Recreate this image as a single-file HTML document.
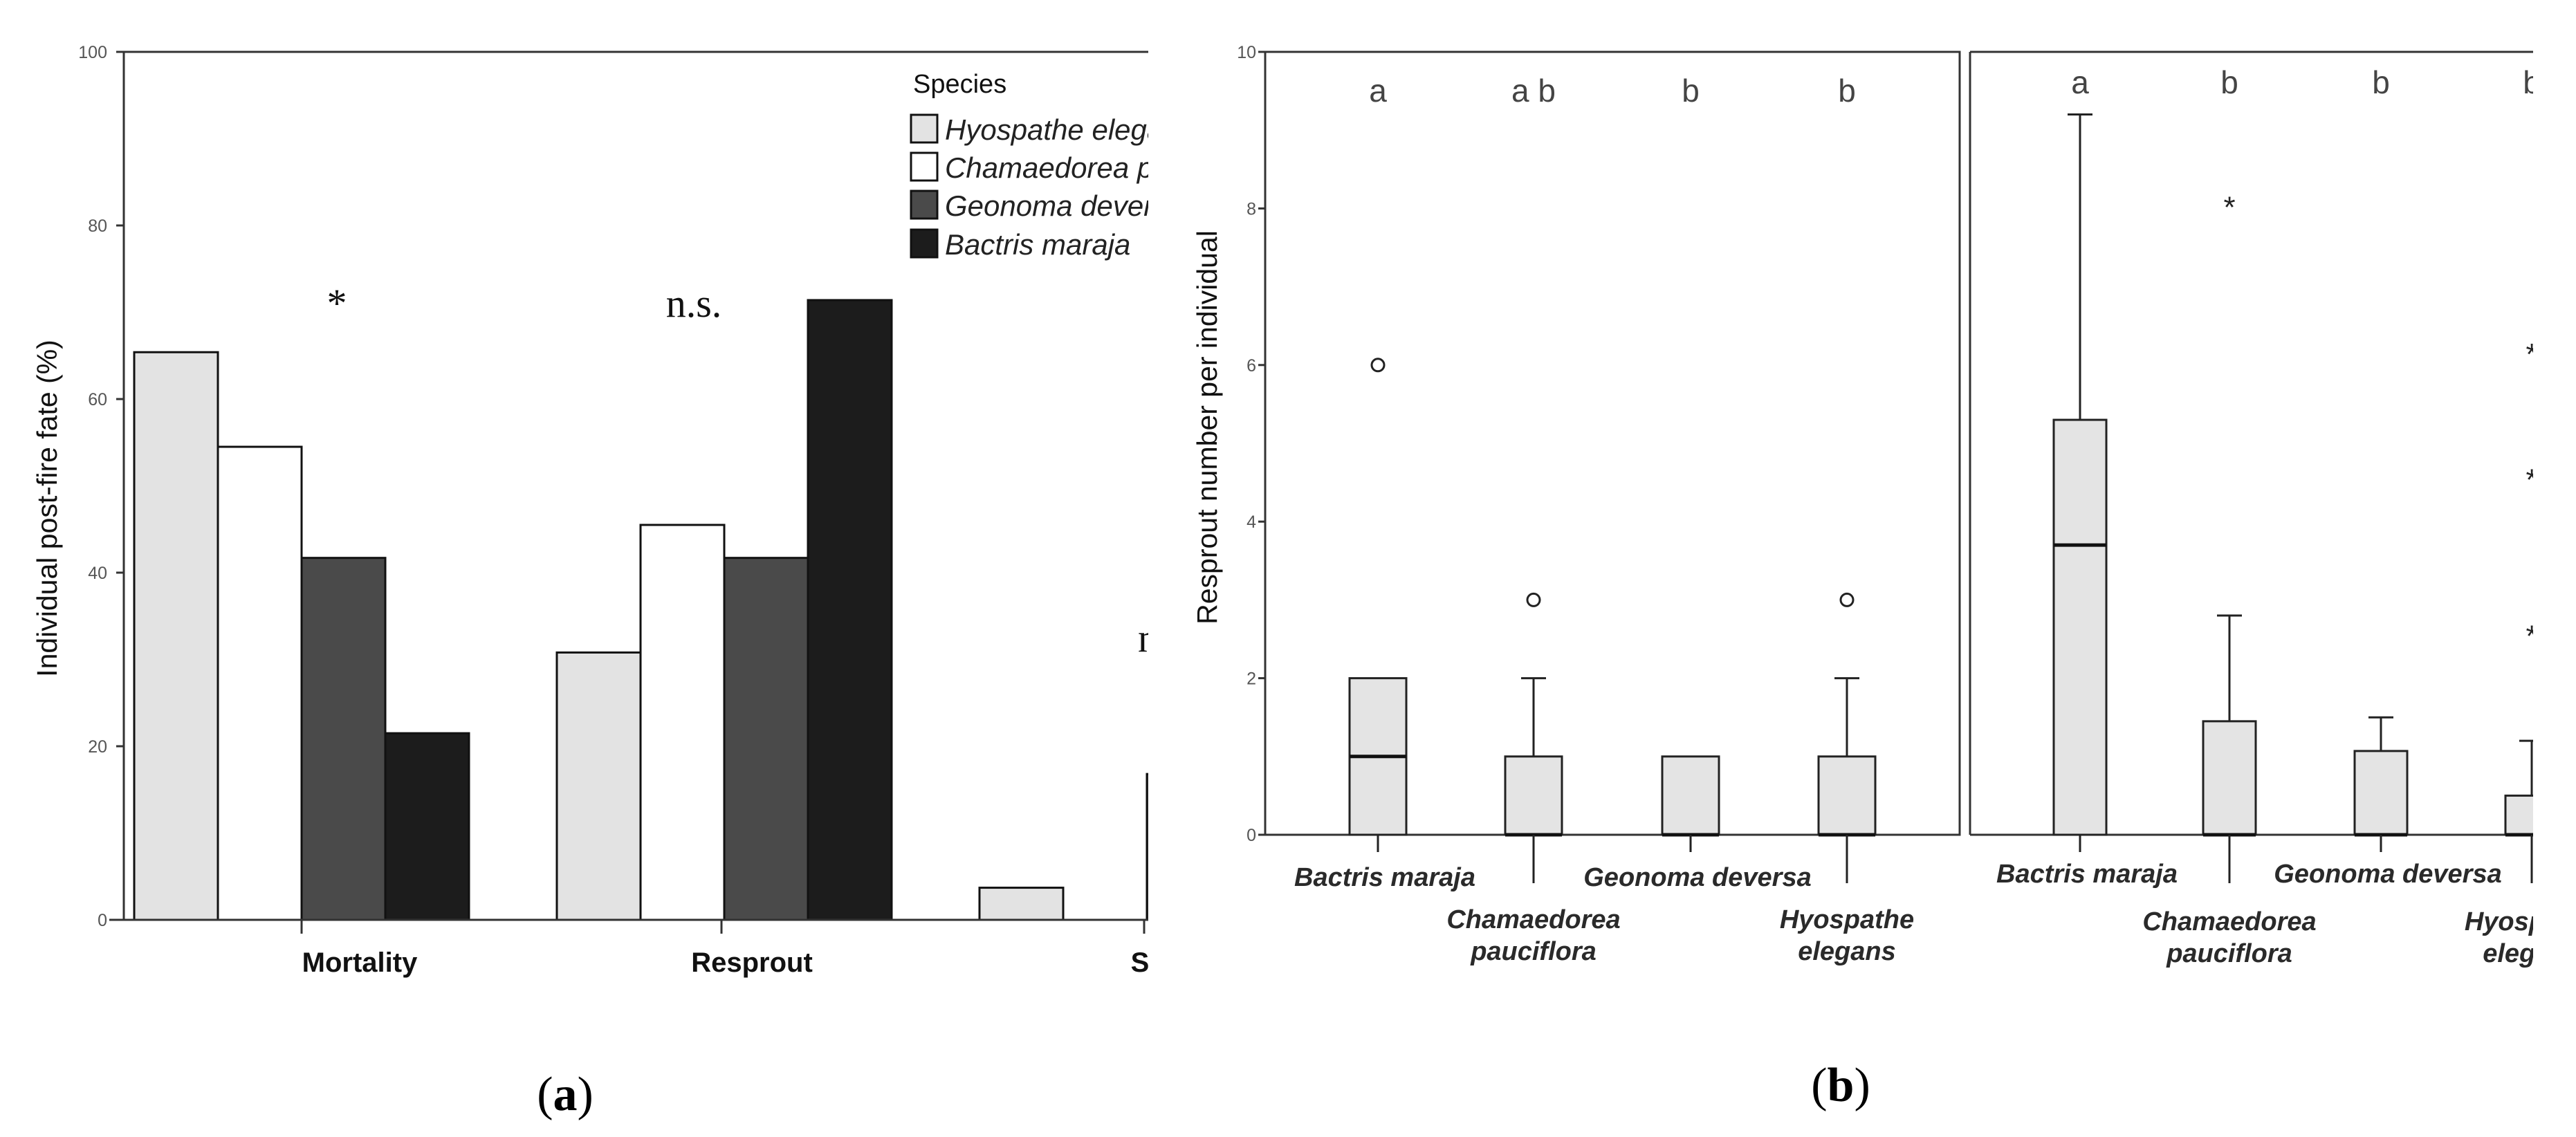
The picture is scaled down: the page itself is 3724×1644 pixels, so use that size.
<!DOCTYPE html>
<html><head><meta charset="utf-8"><style>
html,body{margin:0;padding:0;background:#fff;}
svg{display:block;}
text{font-family:"Liberation Sans",sans-serif;}
</style></head><body>
<svg id="fig" width="3724" height="1644" viewBox="0 0 3724 1644" xmlns="http://www.w3.org/2000/svg">
<defs>
<clipPath id="clipA"><rect x="0" y="0" width="1660" height="1644"/></clipPath>
<clipPath id="clipB2"><rect x="2840" y="0" width="822" height="1644"/></clipPath>
</defs>
<g id="panelA"></g>
<g id="panelB"></g>
<text x="817" y="1605" text-anchor="middle" font-size="70" style="font-family:'Liberation Serif',serif">(<tspan font-weight="bold">a</tspan>)</text>
<text x="2661" y="1592" text-anchor="middle" font-size="70" style="font-family:'Liberation Serif',serif">(<tspan font-weight="bold">b</tspan>)</text>
</svg>
<script>
// ---------- Panel (a) data ----------
const fateCategories = ["Mortality", "Resprout", "S"];
const speciesNames = ["Hyospathe elegans", "Chamaedorea pauciflora", "Geonoma deversa", "Bactris maraja"];
const speciesColors = ["#e3e3e3", "#ffffff", "#4a4a4a", "#1c1c1c"];
const hyospatheVals = [65.4, 30.8, 3.7];
const chamaedoreaVals = [54.5, 45.5, 0];
const geonomaVals = [41.7, 41.7, 16.8];
const bactrisVals = [21.5, 71.4, 8];
const yTicksA = [0, 20, 40, 60, 80, 100];
const annotationsA = ["*", "n.s.", "n.s."];

// ---------- Panel (b) data ----------
const boxSpecies = ["Bactris maraja", "Chamaedorea|pauciflora", "Geonoma deversa", "Hyospathe|elegans"];
const yTicksB = [0, 2, 4, 6, 8, 10];
const b1Q1 = [0, 0, 0, 0];
const b1Med = [1, 0, 0, 0];
const b1Q3 = [2, 1, 1, 1];
const b1Whisk = [2, 2, 1, 2];
const b1Out = [[6], [3], [], [3]];
const b1Letters = ["a", "a b", "b", "b"];
const b2Q1 = [0, 0, 0, 0];
const b2Med = [3.7, 0, 0, 0];
const b2Q3 = [5.3, 1.45, 1.07, 0.5];
const b2Whisk = [9.2, 2.8, 1.5, 1.2];
const b2Stars = [[], [8.08], [], [6.2, 4.6, 2.6]];
const b2Letters = ["a", "b", "b", "b"];

const NS = "http://www.w3.org/2000/svg";
function mk(parent, tag, attrs, txt) {
  const e = document.createElementNS(NS, tag);
  for (const k in attrs) e.setAttribute(k, attrs[k]);
  if (txt !== undefined) e.textContent = txt;
  parent.appendChild(e);
  return e;
}

// ----- Panel A -----
const A = document.getElementById('panelA');
const yA = v => 1330 - v * 12.55;
const groupX = i => 194 + 611 * i;
const barW = 121;
const clipG = mk(A, 'g', {'clip-path': 'url(#clipA)'});


const series = [hyospatheVals, chamaedoreaVals, geonomaVals, bactrisVals];
series.forEach((vals, s) => {
  vals.forEach((v, g) => {
    if (v <= 0) return;
    const r = mk(clipG, 'rect', {x: groupX(g) + s * barW, y: yA(v), width: barW, height: yA(0) - yA(v), fill: speciesColors[s], stroke: '#111', 'stroke-width': 3});
    
    
  });
});
mk(A, 'line', {x1: 179, y1: yA(100), x2: 179, y2: yA(0), stroke: '#333', 'stroke-width': 3});
mk(A, 'line', {x1: 179, y1: yA(100), x2: 1660, y2: yA(100), stroke: '#333', 'stroke-width': 3});
mk(A, 'line', {x1: 158, y1: yA(0), x2: 1660, y2: yA(0), stroke: '#333', 'stroke-width': 3});
yTicksA.forEach(t => {
  mk(A, 'line', {x1: 168, y1: yA(t), x2: 179, y2: yA(t), stroke: '#333', 'stroke-width': 3});
  const tl = mk(A, 'text', {x: 155, y: yA(t) + 9, 'text-anchor': 'end', 'font-size': 25, fill: '#555'}, t);
  
  
});
const catTickX = [436, 1043, 1654];
const catLabelX = [520, 1087, 1648];
fateCategories.forEach((c, i) => {
  mk(A, 'line', {x1: catTickX[i], y1: yA(0), x2: catTickX[i], y2: yA(0) + 20, stroke: '#333', 'stroke-width': 3});
  const t = mk(A, 'text', {x: catLabelX[i], y: 1405, 'text-anchor': 'middle', 'font-size': 40, 'font-weight': 'bold', fill: '#111', 'clip-path': 'url(#clipA)'}, c);
  
  
});
const annX = [487, 1003, 1645];
const annY = [458, 458, 942];
const annAnchor = ["middle", "middle", "start"];
annotationsA.forEach((a, i) => {
  const t = mk(A, 'text', {x: annX[i], y: annY[i], 'text-anchor': annAnchor[i], 'font-size': 58, fill: '#111', style: "font-family:'Liberation Serif',serif", 'clip-path': 'url(#clipA)'}, a);
  
  
});
const ytA = mk(A, 'text', {x: 0, y: 0, transform: 'translate(82,735) rotate(-90)', 'text-anchor': 'middle', 'font-size': 41, fill: '#111'}, 'Individual post-fire fate (%)');


const leg = mk(A, 'g', {'clip-path': 'url(#clipA)'});


mk(leg, 'text', {x: 1320, y: 134, 'font-size': 38, fill: '#111'}, 'Species');
const legY = [166, 221, 276, 332];
speciesNames.forEach((n, i) => {
  const r = mk(leg, 'rect', {x: 1317, y: legY[i], width: 38, height: 40, fill: speciesColors[i], stroke: '#111', 'stroke-width': 3});
  
  
  const t = mk(leg, 'text', {x: 1366, y: legY[i] + 36, 'font-size': 42, 'font-style': 'italic', fill: '#222'}, n);
  
  
});

// ----- Panel B -----
const B = document.getElementById('panelB');
const yB = v => 1207 - v * 113.2;
const b1X = [1992, 2217, 2444, 2670];
const b2X = [3007, 3223, 3442, 3660];
mk(B, 'rect', {x: 1829, y: yB(10), width: 2833 - 1829, height: yB(0) - yB(10), fill: 'none', stroke: '#333', 'stroke-width': 3});
mk(B, 'line', {x1: 2848, y1: yB(10), x2: 3662, y2: yB(10), stroke: '#333', 'stroke-width': 3});
mk(B, 'line', {x1: 2848, y1: yB(10), x2: 2848, y2: yB(0), stroke: '#333', 'stroke-width': 3});
mk(B, 'line', {x1: 2848, y1: yB(0), x2: 3662, y2: yB(0), stroke: '#333', 'stroke-width': 3});
yTicksB.forEach(t => {
  mk(B, 'line', {x1: 1819, y1: yB(t), x2: 1829, y2: yB(t), stroke: '#333', 'stroke-width': 3});
  const tl = mk(B, 'text', {x: 1816, y: yB(t) + 9, 'text-anchor': 'end', 'font-size': 25, fill: '#555'}, t);
  
  
});
const ytB = mk(B, 'text', {x: 0, y: 0, transform: 'translate(1759,618) rotate(-90)', 'text-anchor': 'middle', 'font-size': 41, fill: '#111'}, 'Resprout number per individual');



function drawBoxes(parent, xs, q1, med, q3, wh, hw, outs, stars, letters, letterY, labelYs) {
  xs.forEach((x, i) => {
    const g = mk(parent, 'g', {});
    
    
    if (wh[i] > q3[i]) {
      mk(g, 'line', {x1: x, y1: yB(q3[i]), x2: x, y2: yB(wh[i]), stroke: '#222', 'stroke-width': 3});
      mk(g, 'line', {x1: x - 18, y1: yB(wh[i]), x2: x + 18, y2: yB(wh[i]), stroke: '#222', 'stroke-width': 3});
    }
    mk(g, 'rect', {x: x - hw, y: yB(q3[i]), width: 2 * hw, height: yB(q1[i]) - yB(q3[i]), fill: '#e4e4e4', stroke: '#222', 'stroke-width': 3});
    mk(g, 'line', {x1: x - hw, y1: yB(med[i]), x2: x + hw, y2: yB(med[i]), stroke: '#111', 'stroke-width': 5});
    (outs[i] || []).forEach(o => {
      const c = mk(g, 'circle', {cx: x, cy: yB(o), r: 9, fill: 'none', stroke: '#222', 'stroke-width': 3});
      
      
    });
    (stars[i] || []).forEach(o => {
      const s = mk(g, 'text', {x: x, y: yB(o) + 22, 'text-anchor': 'middle', 'font-size': 44, fill: '#222'}, '*');
      
      
    });
    const lt = mk(g, 'text', {x: x, y: letterY, 'text-anchor': 'middle', 'font-size': 46, fill: '#444'}, letters[i]);
    
    
    const long = i % 2 === 1;
    mk(g, 'line', {x1: x, y1: yB(0), x2: x, y2: yB(0) + (long ? 70 : 25), stroke: '#222', 'stroke-width': 3});
    const parts = boxSpecies[i].split('|');
    const labX = long ? x : x + 10;
    parts.forEach((p, k) => {
      const t = mk(g, 'text', {x: labX, y: (long ? labelYs[1] : labelYs[0]) + k * 46, 'text-anchor': 'middle', 'font-size': 38, 'font-weight': 'bold', 'font-style': 'italic', fill: '#2a2a2a'}, p);
      
      
    });
  });
}
const b1g = mk(B, 'g', {});


drawBoxes(b1g, b1X, b1Q1, b1Med, b1Q3, b1Whisk, 41, b1Out, [[], [], [], []], b1Letters, 147, [1281, 1342]);
const b2g = mk(B, 'g', {'clip-path': 'url(#clipB2)'});


drawBoxes(b2g, b2X, b2Q1, b2Med, b2Q3, b2Whisk, 38, [[], [], [], []], b2Stars, b2Letters, 135, [1276, 1345]);
</script>
</body></html>
